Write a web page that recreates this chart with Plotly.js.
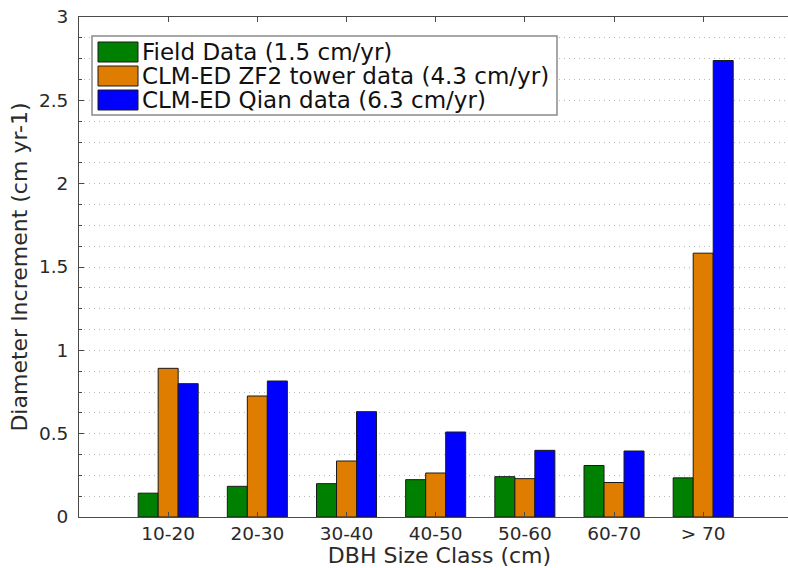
<!DOCTYPE html>
<html><head><meta charset="utf-8">
<script src="https://cdn.plot.ly/plotly-3.0.1.min.js"></script>
<style>html,body{margin:0;padding:0;background:#fff;overflow:hidden}#chart{width:800px;height:568px}</style>
</head><body><div id="chart"></div>
<script>
const categories = ['10-20','20-30','30-40','40-50','50-60','60-70','> 70'];
const fieldData = [0.143,0.184,0.200,0.224,0.242,0.309,0.235];
const zf2Data   = [0.892,0.726,0.336,0.264,0.230,0.207,1.583];
const qianData  = [0.800,0.816,0.632,0.510,0.400,0.396,2.739];
const seriesNames = ['Field Data (1.5 cm/yr)','CLM-ED ZF2 tower data (4.3 cm/yr)','CLM-ED Qian data (6.3 cm/yr)'];
const seriesColors = ['#008000','#DE7D00','#0000FF'];
const yTickVals = [0,0.5,1,1.5,2,2.5,3];
const yTickText = ['0','0.5','1','1.5','2','2.5','3'];

const FONT = 'DejaVu Sans, Liberation Sans, Arial, sans-serif';
const TXT = '#2a2a2a';
const AX = '#4a4a4a';
const GRID = '#b8b8b8';

const M = {l:79, r:0, t:17, b:51};
const W = 800, H = 568;
const pw = W - M.l - M.r, ph = H - M.t - M.b;
const px = x => (x - M.l) / pw;
const py = y => (H - M.b - y) / ph;
const catStep = 89.17;

const seriesData = [fieldData, zf2Data, qianData];
const traces = seriesData.map((d, i) => ({
  type:'bar', x:categories, y:d, name:seriesNames[i],
  marker:{color:seriesColors[i], line:{color:'#1a1a1a', width:1}},
  showlegend:false, hoverinfo:'none'
}));

// custom legend (box, swatches, labels)
const legRows = [52, 76, 100];
const shapes = [{type:'rect', xref:'paper', yref:'paper', x0:px(92), x1:px(557), y0:py(36), y1:py(115),
  fillcolor:'#ffffff', line:{color:'#8a8a8a', width:1.5}, layer:'above'}];
const annotations = [];
legRows.forEach((cy, i) => {
  shapes.push({type:'rect', xref:'paper', yref:'paper', x0:px(98), x1:px(138), y0:py(cy+10), y1:py(cy-10),
    fillcolor:seriesColors[i], line:{color:'#1a1a1a', width:1}, layer:'above'});
  annotations.push({xref:'paper', yref:'paper', x:px(140), y:py(cy), xanchor:'left', yanchor:'middle',
    text:seriesNames[i], showarrow:false, font:{family:FONT, size:23, color:'#111'}});
});

const layout = {
  width:W, height:H, margin:M, paper_bgcolor:'#fff', plot_bgcolor:'#fff',
  barmode:'group', bargap:0.327, bargroupgap:0,
  font:{family:FONT, color:TXT},
  showlegend:false,
  xaxis:{
    type:'category', range:[-1, -1 + pw / catStep], showline:true, linecolor:AX, linewidth:1, mirror:'ticks',
    ticks:'inside', ticklen:5, tickcolor:AX, showgrid:false, zeroline:false, automargin:false,
    tickfont:{family:FONT, size:18.5, color:TXT}, ticklabelstandoff:0,
    title:{text:'DBH Size Class (cm)', font:{family:FONT, size:22, color:TXT}, standoff:15}
  },
  yaxis:{
    range:[0,3], tickmode:'array', tickvals:yTickVals, ticktext:yTickText, automargin:false,
    showline:true, linecolor:AX, linewidth:1, mirror:'ticks',
    ticks:'inside', ticklen:5, tickcolor:AX, zeroline:false,
    showgrid:true, gridcolor:GRID, gridwidth:1, griddash:'1px,4px',
    minor:{tickmode:'linear', tick0:0, dtick:0.125, ticks:'inside', ticklen:3, tickcolor:AX,
      showgrid:true, gridcolor:GRID, gridwidth:1, griddash:'1px,4px'},
    tickfont:{family:FONT, size:18.5, color:TXT}, ticklabelstandoff:6,
    title:{text:'Diameter Increment (cm yr-1)', font:{family:FONT, size:22, color:TXT}, standoff:5}
  },
  shapes:shapes, annotations:annotations
};

Plotly.newPlot('chart', traces, layout, {staticPlot:true, displayModeBar:false});
</script>
</body></html>
